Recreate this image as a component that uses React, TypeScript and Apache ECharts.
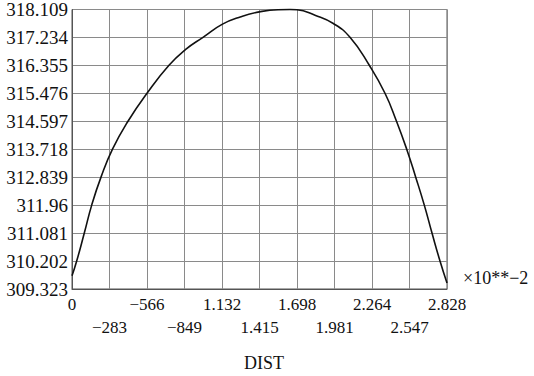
import React, { useEffect, useRef } from "react";
import * as echarts from "echarts";

const xTickLabels = ["0", "−283", "−566", "−849", "1.132", "1.415", "1.698", "1.981", "2.264", "2.547", "2.828"];
const yTickLabels = ["309.323", "310.202", "311.081", "311.96", "312.839", "313.718", "314.597", "315.476", "316.355", "317.234", "318.109"];
const xMin = 0;
const xMax = 2.828;
const yMin = 309.323;
const yMax = 318.109;
const distValues = [0, 0.0354, 0.0928, 0.1486, 0.2187, 0.3054, 0.4223, 0.5656, 0.7315, 0.8597, 0.9879, 1.135, 1.2745, 1.4125, 1.5535, 1.644, 1.6968, 1.8325, 1.9706, 2.0965, 2.2421, 2.3604, 2.4472, 2.5241, 2.592, 2.6568, 2.7149, 2.7752, 2.828];
const curveValues = [309.74, 310.202, 311.081, 311.96, 312.839, 313.718, 314.597, 315.476, 316.355, 316.86, 317.234, 317.648, 317.883, 318.034, 318.103, 318.108, 318.1, 317.93, 317.67, 317.234, 316.355, 315.476, 314.597, 313.718, 312.839, 311.96, 311.081, 310.202, 309.51];

const FONT = "'Liberation Serif', 'DejaVu Serif', serif";

export default function App() {
  const ref = useRef<HTMLDivElement>(null);
  useEffect(() => {
    if (!ref.current) return;
    const chart = echarts.init(ref.current, null, { renderer: "svg" });
    const data = distValues.map((x, i) => [x, curveValues[i]]);
    const labelStyle = { fontFamily: FONT, fontSize: 17, color: "#111" };
    chart.setOption({
      animation: false,
      backgroundColor: "#ffffff",
      grid: { left: 72, right: 87, top: 9, bottom: 87, show: true, borderColor: "#555", borderWidth: 1 },
      xAxis: [
        {
          type: "value",
          min: 0,
          max: 10,
          interval: 1,
          axisLine: { show: true, lineStyle: { color: "#555", width: 1 } },
          axisTick: { show: false },
          splitLine: { show: true, lineStyle: { color: "#8a8a8a", width: 1 } },
          axisLabel: {
            ...labelStyle,
            showMinLabel: true,
            showMaxLabel: true,
            formatter: (v: number) => {
              const i = Math.round(v);
              return i % 2 ? "" : xTickLabels[i] ?? "";
            },
            margin: 7,
          },
        },
        { type: "value", min: xMin, max: xMax, show: false },
        {
          type: "value",
          min: 0,
          max: 10,
          interval: 1,
          position: "bottom",
          axisLine: { show: false },
          axisTick: { show: false },
          splitLine: { show: false },
          axisLabel: {
            ...labelStyle,
            showMinLabel: true,
            showMaxLabel: true,
            formatter: (v: number) => {
              const i = Math.round(v);
              return i % 2 ? xTickLabels[i] ?? "" : "";
            },
            margin: 30,
          },
        },
      ],
      yAxis: [
        {
          type: "value",
          min: 0,
          max: 10,
          interval: 1,
          axisLine: { show: true, lineStyle: { color: "#555", width: 1 } },
          axisTick: { show: false },
          splitLine: { show: true, lineStyle: { color: "#8a8a8a", width: 1 } },
          axisLabel: {
            showMinLabel: true,
            showMaxLabel: true,
            formatter: (v: number) => yTickLabels[Math.round(v)] ?? "",
            fontFamily: FONT,
            fontSize: 19,
            color: "#111",
            margin: 4,
          },
        },
        { type: "value", min: yMin, max: yMax, show: false },
      ],
      series: [
        {
          type: "line",
          xAxisIndex: 1,
          yAxisIndex: 1,
          data,
          smooth: 0.5,
          showSymbol: false,
          clip: false,
          lineStyle: { color: "#111", width: 1.6 },
        },
      ],
      graphic: [
        {
          type: "text",
          left: 463,
          top: 269,
          style: { text: "×10**−2", font: `18px ${FONT}`, fill: "#111" },
        },
        {
          type: "text",
          x: 264,
          y: 363,
          style: { text: "DIST", font: `18px ${FONT}`, fill: "#111", align: "center", verticalAlign: "middle" },
        },
      ],
    });
    return () => chart.dispose();
  }, []);
  return <div ref={ref} style={{ position: "absolute", left: 0, top: 0, width: 534, height: 376 }} />;
}
